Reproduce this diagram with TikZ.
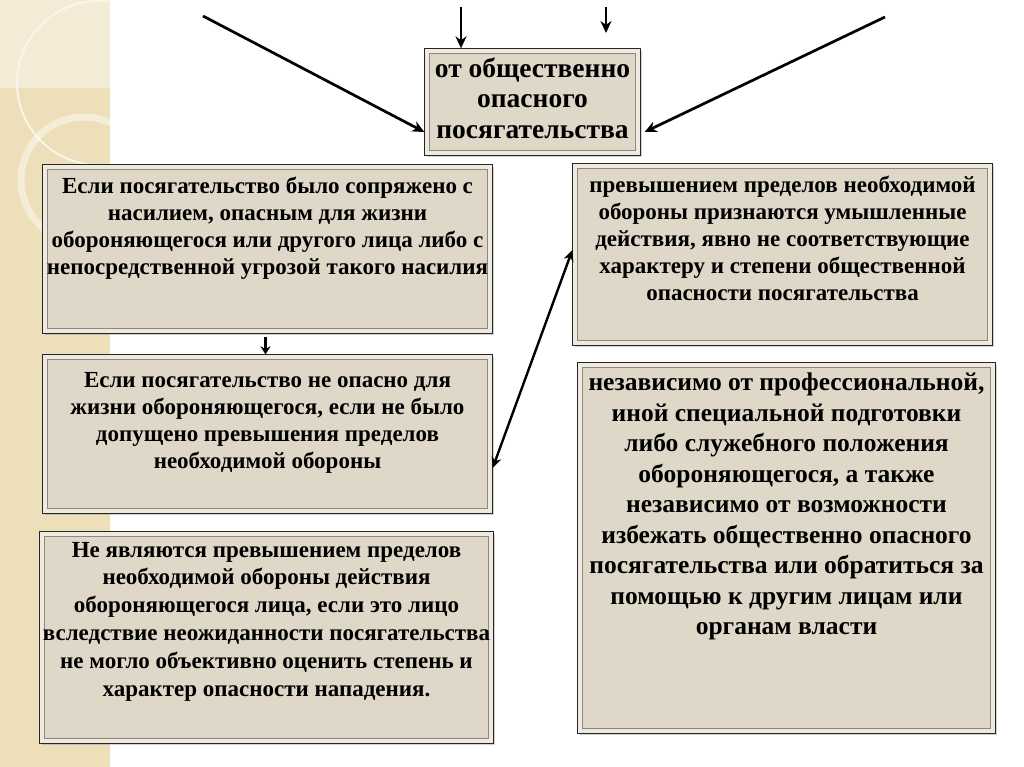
\documentclass[tikz,border=0pt]{standalone}
\usepackage{fontspec}
\setmainfont{Liberation Serif}
\usetikzlibrary{arrows.meta,shadows}
\definecolor{stripc}{HTML}{ECDFB9}
\definecolor{stripl}{HTML}{F3EBD5}
\definecolor{boxfill}{HTML}{DFD8C8}
\definecolor{bevl}{HTML}{EEEAE0}
\definecolor{bevd}{HTML}{8F887A}
\newcommand\boxbevel[1]{%
  \draw[bevl, line width=4pt] ([shift={(3,3)}]#1.north west) rectangle ([shift={(-3,-3)}]#1.south east);
  \draw[bevd, line width=1pt] ([shift={(5.5,5.5)}]#1.north west) rectangle ([shift={(-5.5,-5.5)}]#1.south east);}
\tikzset{
  boxst/.style={draw=black!85, line width=1.3pt, fill=boxfill, inner sep=0pt,
    drop shadow={opacity=0.35, shadow xshift=2pt, shadow yshift=-2pt}},
  txt/.style={font=\bfseries\fontsize{23}{27}\selectfont, align=center, inner sep=0pt, anchor=north, text=black},
  arr/.style={line width=2.7pt, -{Stealth[length=12pt,width=11pt]}},
  arrs/.style={line width=2.4pt, -{Stealth[length=8pt,width=10pt]}},
  darr/.style={line width=2.4pt, {Stealth[length=11pt,width=10pt]}-{Stealth[length=11pt,width=10pt]}}
}
\begin{document}
\begin{tikzpicture}[x=1pt,y=-1pt]
\useasboundingbox (0,0) rectangle (1024,767);
\fill[white] (0,0) rectangle (1024,767);
\fill[stripc] (0,0) rectangle (110,767);
\begin{scope}
  \clip (0,0) rectangle (110,767);
  \fill[stripl] (0,0) rectangle (110,88);
  \draw[white!70!stripc, line width=2pt] (99,83) circle (82);
  \draw[white, opacity=0.45, line width=7pt] (84,180) circle (63);
\end{scope}

% boxes
\node[boxst, minimum width=215, minimum height=106] (T) at (532.5,102) {};
\node[boxst, minimum width=449, minimum height=168] (A) at (267.5,249) {};
\node[boxst, minimum width=449, minimum height=158] (B) at (267.5,434) {};
\node[boxst, minimum width=453, minimum height=211] (C) at (266.5,637.5) {};
\node[boxst, minimum width=419, minimum height=181] (D) at (782.5,254.5) {};
\node[boxst, minimum width=417, minimum height=370] (E) at (786.5,548) {};
\boxbevel{T}\boxbevel{A}\boxbevel{B}\boxbevel{C}\boxbevel{D}\boxbevel{E}

% texts
\node[txt, font=\bfseries\fontsize{27.5}{30.5}\selectfont] (Tt) at ([yshift=-9pt]T.north) {от общественно\\опасного\\посягательства};
\node[txt] (At) at ([yshift=-12.5pt]A.north) {Если посягательство было сопряжено с\\насилием, опасным для жизни\\обороняющегося или другого лица либо с\\непосредственной угрозой такого насилия};
\node[txt] (Bt) at ([yshift=-17.5pt]B.north) {Если посягательство не опасно для\\жизни обороняющегося, если не было\\допущено превышения пределов\\необходимой обороны};
\node[txt, font=\bfseries\fontsize{23}{27.8}\selectfont] (Ct) at ([yshift=-10.5pt]C.north) {Не являются превышением пределов\\необходимой обороны действия\\обороняющегося лица, если это лицо\\вследствие неожиданности посягательства\\не могло объективно оценить степень и\\характер опасности нападения.};
\node[txt] (Dt) at ([yshift=-12.5pt]D.north) {превышением пределов необходимой\\обороны признаются умышленные\\действия, явно не соответствующие\\характеру и степени общественной\\опасности посягательства};
\node[txt, font=\bfseries\fontsize{25.5}{30.5}\selectfont] (Et) at ([yshift=-10.5pt]E.north) {независимо от профессиональной,\\иной специальной подготовки\\либо служебного положения\\обороняющегося, а также\\независимо от возможности\\избежать общественно опасного\\посягательства или обратиться за\\помощью к другим лицам или\\органам власти};

% connectors
\coordinate (s1) at (203,16);
\coordinate (s2) at (461,7);
\coordinate (s3) at (606,7);
\coordinate (e3) at (606,33);
\coordinate (s4) at (885,17);
\draw[arr] (s1) -- ([yshift=-30pt]T.west);
\draw[arr] (s2) -- (s2 |- T.north);
\draw[arr] (s3) -- (e3);
\draw[arr] (s4) -- ([xshift=4pt,yshift=-30pt]T.east);
\draw[arrs] ([xshift=-2pt,yshift=-3pt]A.south) -- ([xshift=-2pt]B.north);
\draw[darr] ([yshift=-34pt]B.east) -- ([yshift=4.5pt]D.west);
\end{tikzpicture}
\end{document}
